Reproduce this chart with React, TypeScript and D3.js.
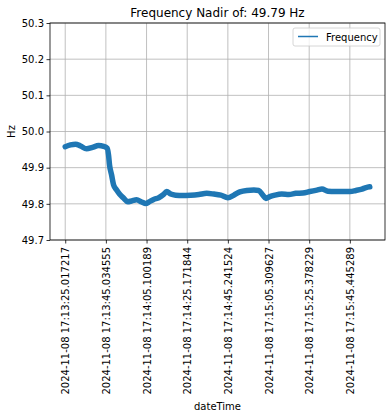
import { useEffect, useRef } from 'react';
import * as d3 from 'd3';

// seconds since first sample
const times = [
    0, 2.6, 5.1, 7.5, 10.5, 13.4, 16.4, 18.9, 20.6, 21.3, 21.8, 22.8, 23.8, 25.3, 26.7, 28.7, 30.7, 32.7,
    35.1, 37.6, 39.6, 41.5, 43.5, 46.0, 48.4, 49.9, 51.9, 54.3, 57.8, 61.7, 65.7, 69.6, 73.1, 76.5, 80.0,
    82.9, 85.9, 89.3, 92.8, 95.2, 97.2, 98.7, 100.6, 103.1, 106.5, 110.0, 113.4, 116.9, 120.3, 123.8,
    126.3, 129.2, 132.7, 136.6, 140.1, 143.0, 146.0, 148.0, 149.8,
];
const frequency = [
    49.958, 49.963, 49.965, 49.96, 49.952, 49.956, 49.961, 49.959, 49.954, 49.935, 49.907, 49.88, 49.852,
    49.838, 49.827, 49.816, 49.806, 49.808, 49.811, 49.805, 49.801, 49.806, 49.812, 49.817, 49.826, 49.834,
    49.827, 49.824, 49.823, 49.824, 49.826, 49.829, 49.827, 49.824, 49.817, 49.824, 49.833, 49.837, 49.838,
    49.837, 49.824, 49.815, 49.82, 49.824, 49.827, 49.826, 49.829, 49.83, 49.834, 49.838, 49.841, 49.835,
    49.834, 49.834, 49.834, 49.837, 49.841, 49.845, 49.847,
];
const tickTimes = [0, 20, 40, 60, 80, 100, 120, 140];
const tickLabels = [
    '2024-11-08 17:13:25.017217',
    '2024-11-08 17:13:45.034555',
    '2024-11-08 17:14:05.100189',
    '2024-11-08 17:14:25.171844',
    '2024-11-08 17:14:45.241524',
    '2024-11-08 17:15:05.309627',
    '2024-11-08 17:15:25.378229',
    '2024-11-08 17:15:45.445289',
];
const yTicks = [49.7, 49.8, 49.9, 50.0, 50.1, 50.2, 50.3];

type Point = { t: number; f: number };

const App = () => {
    const svgRef = useRef<SVGSVGElement | null>(null);

    useEffect(() => {
        if (!svgRef.current) return;

        const svg = d3.select(svgRef.current);
        const width = 392;
        const height = 416;
        const margin = { top: 23, right: 7, bottom: 176, left: 50 };
        const font = 'DejaVu Sans, sans-serif';

        const data: Point[] = times.map((t, i) => ({ t, f: frequency[i] }));
        const span = d3.max(times) as number;

        const x = d3
            .scaleLinear()
            .domain([-0.05 * span, span * 1.05])
            .range([margin.left, width - margin.right]);

        const y = d3
            .scaleLinear()
            .domain([49.7, 50.3])
            .range([height - margin.bottom, margin.top]);

        svg.selectAll('*').remove();
        svg.attr('font-family', font);

        // grid
        const grid = svg.append('g').attr('stroke', '#b0b0b0').attr('stroke-width', 0.8);
        grid
            .selectAll('line.gx')
            .data(tickTimes)
            .join('line')
            .attr('x1', (d) => x(d))
            .attr('x2', (d) => x(d))
            .attr('y1', margin.top)
            .attr('y2', height - margin.bottom);
        grid
            .selectAll('line.gy')
            .data(yTicks)
            .join('line')
            .attr('class', 'gy')
            .attr('x1', margin.left)
            .attr('x2', width - margin.right)
            .attr('y1', (d) => y(d))
            .attr('y2', (d) => y(d));

        // the signal (noisy, so drawn as a thick band)
        const line = d3
            .line<Point>()
            .x((d) => x(d.t))
            .y((d) => y(d.f))
            .curve(d3.curveMonotoneX);

        svg
            .append('path')
            .datum(data)
            .attr('fill', 'none')
            .attr('stroke', '#1f77b4')
            .attr('stroke-width', 5.5)
            .attr('stroke-linejoin', 'round')
            .attr('stroke-linecap', 'round')
            .attr('d', line);

        // frame
        svg
            .append('rect')
            .attr('x', margin.left)
            .attr('y', margin.top)
            .attr('width', width - margin.left - margin.right)
            .attr('height', height - margin.top - margin.bottom)
            .attr('fill', 'none')
            .attr('stroke', '#000')
            .attr('stroke-width', 0.8);

        // X axis
        const xAxis = svg
            .append('g')
            .attr('transform', `translate(0,${height - margin.bottom})`)
            .call(
                d3
                    .axisBottom(x)
                    .tickValues(tickTimes)
                    .tickSize(3.5)
                    .tickFormat((_, i) => tickLabels[i])
            );
        xAxis.select('.domain').remove();
        xAxis.selectAll('line').attr('stroke-width', 0.8);
        xAxis
            .selectAll('text')
            .attr('font-family', font)
            .attr('font-size', 10)
            .attr('fill', '#000')
            .attr('text-anchor', 'end')
            .attr('dy', null)
            .attr('y', 0)
            .attr('transform', 'translate(3.5,7) rotate(-90)');

        // Y axis
        const yAxis = svg
            .append('g')
            .attr('transform', `translate(${margin.left},0)`)
            .call(d3.axisLeft(y).tickValues(yTicks).tickSize(3.5).tickFormat(d3.format('.1f')));
        yAxis.select('.domain').remove();
        yAxis.selectAll('line').attr('stroke-width', 0.8);
        yAxis
            .selectAll('text')
            .attr('font-family', font)
            .attr('font-size', 10)
            .attr('fill', '#000')
            .attr('x', -6);

        // labels
        svg
            .append('text')
            .attr('x', (margin.left + width - margin.right) / 2)
            .attr('y', 17)
            .attr('text-anchor', 'middle')
            .attr('font-size', 12)
            .text('Frequency Nadir of: 49.79 Hz');

        svg
            .append('text')
            .attr('x', (margin.left + width - margin.right) / 2)
            .attr('y', 410)
            .attr('text-anchor', 'middle')
            .attr('font-size', 10)
            .text('dateTime');

        svg
            .append('text')
            .attr('transform', `translate(15,${(margin.top + height - margin.bottom) / 2}) rotate(-90)`)
            .attr('text-anchor', 'middle')
            .attr('font-size', 10)
            .text('Hz');

        // legend
        const legend = svg.append('g').attr('transform', `translate(${width - margin.right - 92},${margin.top + 5})`);
        legend
            .append('rect')
            .attr('width', 87)
            .attr('height', 18)
            .attr('rx', 2)
            .attr('fill', '#fff')
            .attr('fill-opacity', 0.8)
            .attr('stroke', '#cccccc')
            .attr('stroke-width', 0.8);
        legend
            .append('line')
            .attr('x1', 5)
            .attr('x2', 25)
            .attr('y1', 8.5)
            .attr('y2', 8.5)
            .attr('stroke', '#1f77b4')
            .attr('stroke-width', 1.5);
        legend
            .append('text')
            .attr('x', 33)
            .attr('y', 12.5)
            .attr('font-size', 10)
            .text('Frequency');
    }, []);

    return (
        <svg
            ref={svgRef}
            width={392}
            height={416}
            style={{ position: 'absolute', left: 0, top: 0, background: '#fff' }}
        />
    );
};

export default App;
